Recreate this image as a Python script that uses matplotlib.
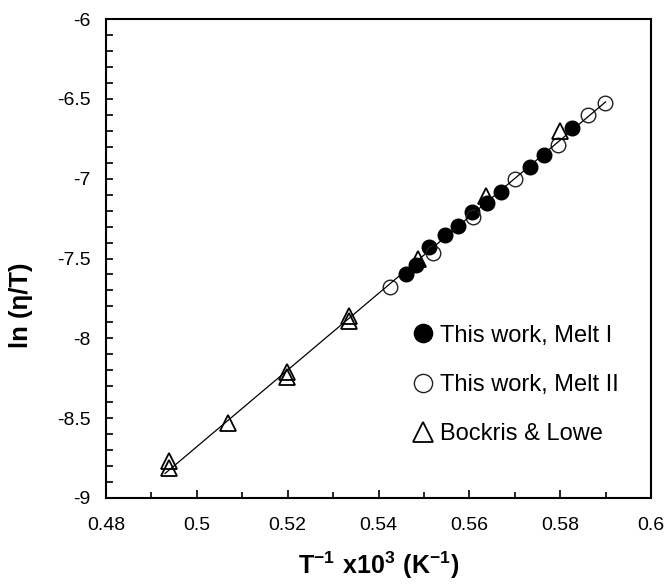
import numpy as np
import matplotlib
matplotlib.use("Agg")
import matplotlib.pyplot as plt
from matplotlib.ticker import MultipleLocator, FuncFormatter

plt.rcParams['font.family'] = ['Liberation Sans', 'DejaVu Sans']
plt.rcParams['axes.unicode_minus'] = False
plt.rcParams['mathtext.fontset'] = 'custom'
plt.rcParams['mathtext.rm'] = 'Liberation Sans'
plt.rcParams['mathtext.bf'] = 'Liberation Sans:bold'

# ---- data ----
melt1_x = [0.5461, 0.5483, 0.5512, 0.5546, 0.5576, 0.5605, 0.5638, 0.5669, 0.5734, 0.5764, 0.5825]
melt1_y = [-7.60, -7.54, -7.43, -7.355, -7.296, -7.21, -7.155, -7.081, -6.925, -6.852, -6.685]

melt2_x = [0.5425, 0.5521, 0.5609, 0.5700, 0.5796, 0.5862, 0.5899]
melt2_y = [-7.676, -7.467, -7.238, -7.004, -6.789, -6.601, -6.528]

bl_x = [0.4939, 0.4939, 0.5069, 0.5198, 0.5198, 0.5336, 0.5336, 0.5488, 0.5637, 0.5800]
bl_y = [-8.77, -8.81, -8.53, -8.21, -8.24, -7.86, -7.89, -7.50, -7.11, -6.70]

fit_range = [0.4930, 0.5900]

labels = ["This work, Melt I", "This work, Melt II", "Bockris & Lowe"]

# ---- figure ----
fig = plt.figure(figsize=(6.68, 5.88), dpi=100)
ax = fig.add_axes([106/668, 1-498/588, 545/668, 479/588])

all_x = np.array(melt1_x + melt2_x + bl_x)
all_y = np.array(melt1_y + melt2_y + bl_y)
k, b = np.polyfit(all_x, all_y, 1)
fx = np.array(fit_range)
ax.plot(fx, k*fx + b, color='black', lw=0.9, zorder=4)

h1, = ax.plot(melt1_x, melt1_y, 'o', ms=10.5, mfc='black', mec='black', mew=1, ls='none', zorder=3)
h2, = ax.plot(melt2_x, melt2_y, 'o', ms=10.5, mfc='none', mec='#222222', mew=1.0, ls='none', zorder=3)
h3, = ax.plot(bl_x, bl_y, '^', ms=11, mfc='none', mec='black', mew=1.3, ls='none', zorder=3)

ax.set_xlim(0.48, 0.60)
ax.set_ylim(-9, -6)
ax.xaxis.set_major_locator(MultipleLocator(0.02))
ax.xaxis.set_minor_locator(MultipleLocator(0.01))
ax.yaxis.set_major_locator(MultipleLocator(0.5))
ax.yaxis.set_minor_locator(MultipleLocator(0.1))
fmt = FuncFormatter(lambda v, p: ('%g' % round(v, 4)))
ax.xaxis.set_major_formatter(fmt)
ax.yaxis.set_major_formatter(fmt)

for s in ax.spines.values():
    s.set_linewidth(1.5)

ax.tick_params(axis='x', which='major', direction='in', length=6, width=1.2, pad=14, labelsize=14)
ax.tick_params(axis='x', which='minor', direction='in', length=4.5, width=1.2)
ax.tick_params(axis='y', which='major', direction='in', length=5, width=1.2, pad=11, labelsize=14)
ax.tick_params(axis='y', which='minor', direction='in', length=5, width=1.2)

ax.set_xlabel(r'$\mathbf{T^{-1}\ x10^{3}\ (K^{-1})}$', fontsize=18)
ax.xaxis.set_label_coords(0.5, -0.108)
ax.set_ylabel('ln (η/T)', fontsize=18.5, fontweight='bold')
ax.yaxis.set_label_coords(-0.134, 0.403)

ax.legend([h1, h2, h3], labels, loc='upper left', bbox_to_anchor=(0.566, 0.362),
          frameon=False, fontsize=17, markerscale=1.25, handlelength=0.7,
          handletextpad=0.37, labelspacing=1.16, borderpad=0, borderaxespad=0)

fig.savefig('out.png', dpi=100)
